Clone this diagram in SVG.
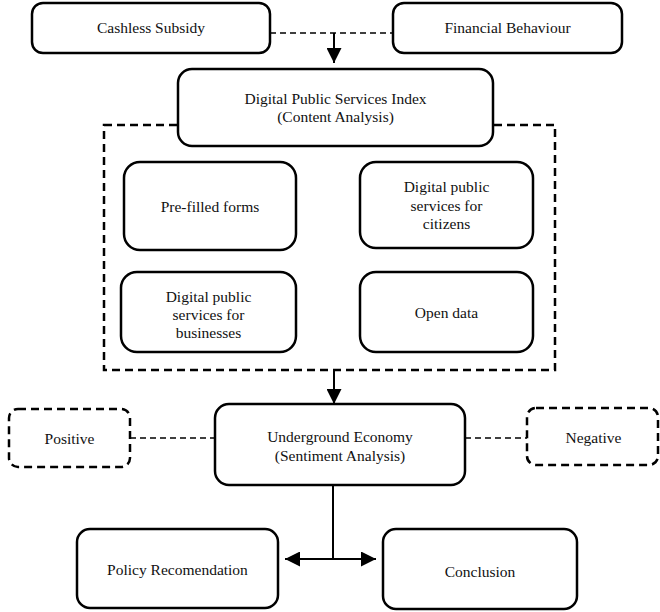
<svg xmlns="http://www.w3.org/2000/svg" width="660" height="612" viewBox="0 0 660 612">
<defs>
<style>
.box{fill:#fff;stroke:#000;stroke-width:2.5}
.dbox{fill:#fff;stroke:#000;stroke-width:2.5;stroke-dasharray:8 5}
.dline{fill:none;stroke:#000;stroke-width:1.6;stroke-dasharray:6 4}
.line{fill:none;stroke:#000;stroke-width:2}
.t{font-size:15.5px;fill:#111;text-anchor:middle}
</style>
<marker id="ah" viewBox="0 0 10 10" refX="10" refY="5" markerWidth="15" markerHeight="15" markerUnits="userSpaceOnUse" orient="auto">
<path d="M0,0 L10,5 L0,10 Z" fill="#000"/>
</marker>
</defs>
<rect id="frame" x="0" y="0" width="660" height="612" fill="#fff"/>
<g id="connectors">
<line class="dline" x1="270" y1="33" x2="393" y2="33"/>
<line class="line" x1="334" y1="33" x2="334" y2="63" marker-end="url(#ah)"/>
<line class="line" x1="334" y1="370" x2="334" y2="404" marker-end="url(#ah)"/>
<line class="dline" x1="130" y1="438" x2="215" y2="438"/>
<line class="dline" x1="465" y1="438" x2="527" y2="438"/>
<line class="line" x1="333" y1="485" x2="333" y2="559"/>
<line class="line" x1="333" y1="559" x2="285" y2="559" marker-end="url(#ah)"/>
<line class="line" x1="333" y1="559" x2="376" y2="559" marker-end="url(#ah)"/>
</g>
<g id="group-dpsi">
<rect class="dbox" x="104" y="125" width="451" height="245" style="fill:none"/>
</g>
<g font-family="Liberation Serif, Times New Roman, DejaVu Serif, serif">
<g id="cashless">
<rect class="box" x="32" y="3" width="238" height="50" rx="11"/>
<text class="t" x="151" y="33">Cashless Subsidy</text>
</g>
<g id="financial">
<rect class="box" x="393" y="3" width="229" height="50" rx="11"/>
<text class="t" x="507.5" y="33">Financial Behaviour</text>
</g>
<g id="dpsi">
<rect class="box" x="178" y="69" width="315" height="77" rx="14"/>
<text class="t" x="335.5" y="104">Digital Public Services Index</text>
<text class="t" x="335.5" y="122">(Content Analysis)</text>
</g>
<g id="prefilled">
<rect class="box" x="124" y="162" width="172" height="88" rx="16"/>
<text class="t" x="210" y="212">Pre-filled forms</text>
</g>
<g id="citizens">
<rect class="box" x="360" y="162" width="173" height="86" rx="16"/>
<text class="t" x="446.5" y="192">Digital public</text>
<text class="t" x="446.5" y="211">services for</text>
<text class="t" x="446.5" y="229">citizens</text>
</g>
<g id="businesses">
<rect class="box" x="121" y="272" width="175" height="80" rx="16"/>
<text class="t" x="208.5" y="302">Digital public</text>
<text class="t" x="208.5" y="320">services for</text>
<text class="t" x="208.5" y="338">businesses</text>
</g>
<g id="opendata">
<rect class="box" x="360" y="272" width="173" height="80" rx="16"/>
<text class="t" x="446.5" y="318">Open data</text>
</g>
<g id="underground">
<rect class="box" x="215" y="404" width="250" height="81" rx="14"/>
<text class="t" x="340" y="442">Underground Economy</text>
<text class="t" x="340" y="461">(Sentiment Analysis)</text>
</g>
<g id="positive">
<rect class="dbox" x="9" y="409" width="121" height="58" rx="9"/>
<text class="t" x="69.5" y="444">Positive</text>
</g>
<g id="negative">
<rect class="dbox" x="527" y="408" width="131" height="57" rx="9"/>
<text class="t" x="593.5" y="443">Negative</text>
</g>
<g id="policy">
<rect class="box" x="77" y="529" width="201" height="79" rx="13"/>
<text class="t" x="177.5" y="575">Policy Recomendation</text>
</g>
<g id="conclusion">
<rect class="box" x="383" y="529" width="194" height="80" rx="13"/>
<text class="t" x="480" y="577">Conclusion</text>
</g>
</g>
</svg>
